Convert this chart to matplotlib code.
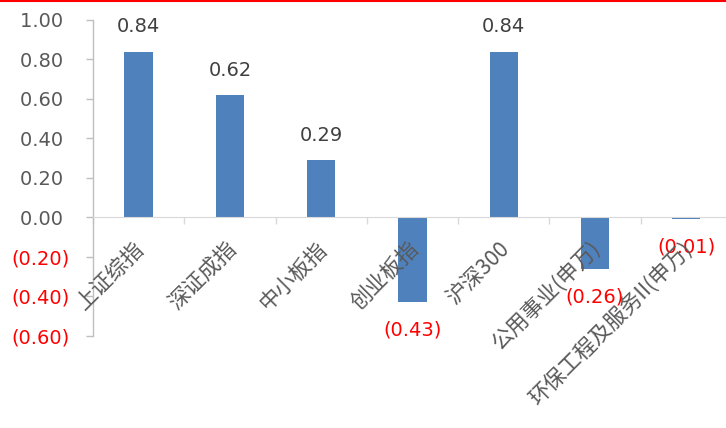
import numpy as np
import matplotlib.pyplot as plt
from matplotlib.lines import Line2D

plt.rcParams['font.family'] = ['DejaVu Sans']

categories = ['上证综指', '深证成指', '中小板指', '创业板指', '沪深300',
              '公用事业(申万)', '环保工程及服务II(申万)']
values = [0.84, 0.62, 0.29, -0.43, 0.84, -0.26, -0.01]
yticks = [-0.6, -0.4, -0.2, 0.0, 0.2, 0.4, 0.6, 0.8, 1.0]

bar_color = '#4F81BD'
axis_gray = '#BFBFBF'
text_gray = '#595959'
red = '#FF0000'


def fmt(v):
    if v < 0:
        return '({:.2f})'.format(-v)
    return '{:.2f}'.format(v)


fig = plt.figure(figsize=(7.26, 4.28), dpi=100)
ax = fig.add_axes([0.1281, 0.2150, 0.880, 0.7383])

x = np.arange(len(values))
ax.bar(x, values, width=0.31, color=bar_color, zorder=2)

ax.set_xlim(-0.5, len(values) - 0.5)
ax.set_ylim(-0.6, 1.0)

# y axis: positives padded on the right like the accounting format
ax.set_yticks(yticks)
ax.set_yticklabels([fmt(v) if v < 0 else fmt(v) + ' ' for v in yticks])
for lab, v in zip(ax.get_yticklabels(), yticks):
    lab.set_color(red if v < 0 else text_gray)
ax.tick_params(axis='y', direction='out', length=5, width=1,
               color=axis_gray, pad=12, labelsize=14)

# zero line as the bottom spine, with ticks between categories
ax.spines['bottom'].set_position(('data', 0))
ax.set_xticks(np.arange(len(values) + 1) - 0.5)
ax.set_xticklabels([])
ax.tick_params(axis='x', direction='out', length=5, width=1, color='#D9D9D9')
ax.spines['bottom'].set_color('#D9D9D9')
ax.spines['left'].set_color(axis_gray)
ax.spines['left'].set_linewidth(1)
for s in ['top', 'right']:
    ax.spines[s].set_visible(False)

# value labels
for i, v in enumerate(values):
    if v >= 0:
        ax.annotate(fmt(v), (i, v), xytext=(0, 18), textcoords='offset points',
                    ha='center', va='center', fontsize=14, color='#404040')
    else:
        ax.annotate(fmt(v), (i, v), xytext=(0, -20), textcoords='offset points',
                    ha='center', va='center', fontsize=14, color=red)

# rotated category labels hanging from the zero line
for i, name in enumerate(categories):
    ax.annotate(name, (i, 0), xytext=(2, -20), textcoords='offset points',
                ha='right', va='center', rotation=45, rotation_mode='anchor',
                fontsize=15.5, color=text_gray,
                family=['Noto Sans CJK SC', 'DejaVu Sans'],
                annotation_clip=False)

# thin red rule along the top edge
fig.add_artist(Line2D([0, 1], [0.998, 0.998], transform=fig.transFigure,
                      color=red, lw=1.5))

fig.savefig('out.png', dpi=100)
